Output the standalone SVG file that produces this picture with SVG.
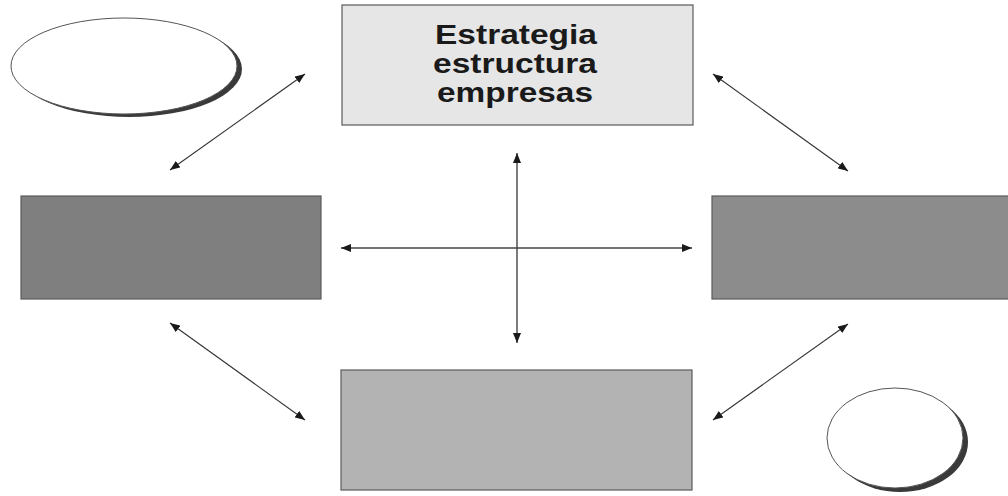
<svg xmlns="http://www.w3.org/2000/svg" width="1008" height="496" viewBox="0 0 1008 496">
  <defs>
    <marker id="arrow" viewBox="0 0 10 8" refX="10" refY="4" markerWidth="10" markerHeight="8" markerUnits="userSpaceOnUse" orient="auto-start-reverse">
      <path d="M0,0 L10,4 L0,8 z" fill="#1a1a1a"/>
    </marker>
    <style>
      .box { stroke: #5a5a5a; stroke-width: 1.2; }
      .shadow { fill: #3a3a3a; }
      .oval { fill: #ffffff; stroke: #555555; stroke-width: 1; }
      .link { stroke: #333333; stroke-width: 1.1; fill: none; marker-start: url(#arrow); marker-end: url(#arrow); }
      .cross { stroke: #444444; stroke-width: 1.4; }
      .title { font-family: "Liberation Sans", Arial, sans-serif; font-weight: bold; font-size: 27px; fill: #1a1a1a; text-anchor: middle; }
    </style>
  </defs>

  <rect width="1008" height="496" fill="#ffffff"/>

  <!-- connectors -->
  <g id="connectors">
    <line class="link cross" x1="517" y1="153" x2="517" y2="343"/>
    <line class="link cross" x1="341" y1="248" x2="692" y2="248"/>
    <line class="link" x1="170" y1="170" x2="305" y2="74"/>
    <line class="link" x1="713" y1="74" x2="848" y2="171"/>
    <line class="link" x1="170" y1="323" x2="305" y2="420"/>
    <line class="link" x1="848" y1="324" x2="713" y2="420"/>
  </g>

  <!-- top ellipse -->
  <g id="oval-top-left">
    <ellipse class="shadow" cx="129" cy="69" rx="113" ry="48"/>
    <ellipse class="oval" cx="124" cy="66" rx="113" ry="48"/>
  </g>

  <!-- strategy box -->
  <g id="node-estrategia">
    <rect class="box" x="342" y="5" width="351" height="120" fill="#e6e6e6"/>
    <text class="title" x="516" y="44" textLength="162" lengthAdjust="spacingAndGlyphs">Estrategia</text>
    <text class="title" x="515" y="73" textLength="164" lengthAdjust="spacingAndGlyphs">estructura</text>
    <text class="title" x="515" y="102" textLength="156" lengthAdjust="spacingAndGlyphs">empresas</text>
  </g>

  <g id="node-left">
    <rect class="box" x="21" y="196" width="300" height="103" fill="#7f7f7f"/>
  </g>

  <g id="node-right">
    <rect class="box" x="712" y="196" width="310" height="103" fill="#8c8c8c"/>
  </g>

  <g id="node-bottom">
    <rect class="box" x="341" y="370" width="351" height="120" fill="#b3b3b3"/>
  </g>

  <!-- bottom-right ellipse -->
  <g id="oval-bottom-right">
    <ellipse class="shadow" cx="900" cy="442" rx="68" ry="50"/>
    <ellipse class="oval" cx="895" cy="438" rx="68" ry="50"/>
  </g>
</svg>
